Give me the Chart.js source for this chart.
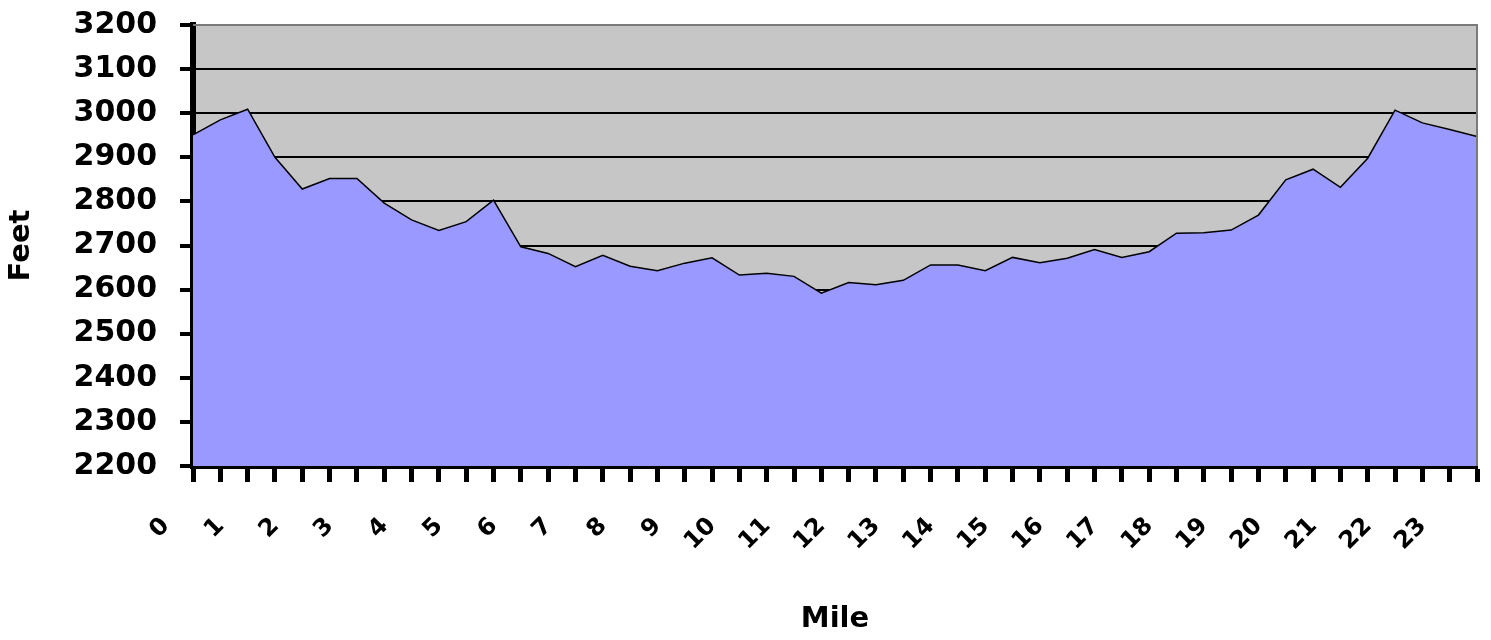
<!DOCTYPE html>
<html>
<head>
<meta charset="utf-8">
<title>Elevation profile</title>
<script src="https://cdn.jsdelivr.net/npm/chart.js@4.4.1/dist/chart.umd.min.js"></script>
<style>
  html, body { margin: 0; padding: 0; background: #fff; }
  #chart { display: block; }
</style>
</head>
<body>
<canvas id="chart" width="1491" height="640"></canvas>
<script>
// Mile markers along the category axis (one category every half mile, labels on whole miles)
const mileLabels = [
  "0", "", "1", "", "2", "", "3", "", "4", "", "5", "", "6", "", "7", "", "8", "", "9", "", "10", "", "11", "",
  "12", "", "13", "", "14", "", "15", "", "16", "", "17", "", "18", "", "19", "", "20", "", "21", "", "22", "", "23", ""
];

// Elevation in feet
const elevationFeet = [
  2951, 2985, 3009, 2900, 2828, 2852, 2852, 2796, 2758, 2734, 2754, 2803,
  2697, 2682, 2652, 2678, 2653, 2643, 2660, 2672, 2633, 2637, 2630, 2592,
  2616, 2611, 2621, 2656, 2656, 2643, 2673, 2661, 2671, 2691, 2673, 2686,
  2728, 2729, 2735, 2769, 2849, 2873, 2832, 2898, 3007, 2978, 2963, 2947
];

// Value axis range
const feetMin = 2200;
const feetMax = 3200;
const feetStep = 100;

const labelFont = { family: "DejaVu Sans", weight: "bold" };

// pin the plot box: fixed axis size, no extra label overhang padding
function pinScale(size) {
  return (scale) => {
    if (scale.isHorizontal()) scale.height = size;
    else scale.width = size;
    scale.paddingTop = 0;
    scale.paddingBottom = 0;
    scale.paddingLeft = 0;
    scale.paddingRight = 0;
  };
}

// Grey plot area like the old spreadsheet chart, plus a thin frame on top/right
const plotBackground = {
  id: "plotBackground",
  beforeDraw(chart) {
    const { ctx, chartArea: a } = chart;
    ctx.save();
    ctx.fillStyle = "#c6c6c6";
    ctx.fillRect(a.left, a.top, a.right - a.left, a.bottom - a.top);
    ctx.restore();
  },
  afterDatasetsDraw(chart) {
    const { ctx, chartArea: a } = chart;
    ctx.save();
    ctx.strokeStyle = "#7a7a7a";
    ctx.lineWidth = 2;
    ctx.beginPath();
    ctx.moveTo(a.left, a.top);
    ctx.lineTo(a.right, a.top);
    ctx.lineTo(a.right, a.bottom);
    ctx.stroke();
    ctx.restore();
  }
};

const ctx = document.getElementById("chart").getContext("2d");
new Chart(ctx, {
  type: "line",
  data: {
    labels: mileLabels,
    datasets: [
      {
        label: "Feet",
        data: elevationFeet,
        fill: "start",
        backgroundColor: "#9999ff",
        borderColor: "#000",
        borderWidth: 1.5,
        pointRadius: 0,
        tension: 0,
      },
    ],
  },
  options: {
    responsive: false,
    animation: false,
    layout: { padding: { left: 4, right: 14, top: 25, bottom: 3 } },
    plugins: {
      legend: { display: false },
      tooltip: { enabled: false },
    },
    scales: {
      x: {
        type: "category",
        offset: false,
        afterFit: pinScale(171),
        border: { display: true, color: "#000", width: 6 },
        grid: {
          display: true,
          drawOnChartArea: false,
          drawTicks: true,
          tickLength: 16,
          tickWidth: 5,
          tickColor: "#000",
        },
        ticks: {
          autoSkip: false,
          maxRotation: 45,
          minRotation: 45,
          labelOffset: -27,
          padding: 30,
          color: "#000",
          font: { ...labelFont, size: 24 },
        },
        title: {
          display: true,
          text: "Mile",
          color: "#000",
          padding: 0,
          font: { ...labelFont, size: 29 },
        },
      },
      y: {
        min: feetMin,
        max: feetMax,
        afterFit: pinScale(189),
        border: { display: true, color: "#000", width: 6 },
        grid: {
          color: (c) => (c.tick && c.tick.value === feetMax ? "#7a7a7a" : "#000"),
          lineWidth: 2,
          drawTicks: true,
          tickLength: 13,
          tickWidth: 4,
          tickColor: "#000",
        },
        ticks: {
          stepSize: feetStep,
          padding: 23,
          color: "#000",
          font: { ...labelFont, size: 30 },
          callback: (value) => String(value),
        },
        title: {
          display: true,
          text: "Feet",
          color: "#000",
          padding: 0,
          font: { ...labelFont, size: 29 },
        },
      },
    },
  },
  plugins: [plotBackground],
});
</script>
</body>
</html>
